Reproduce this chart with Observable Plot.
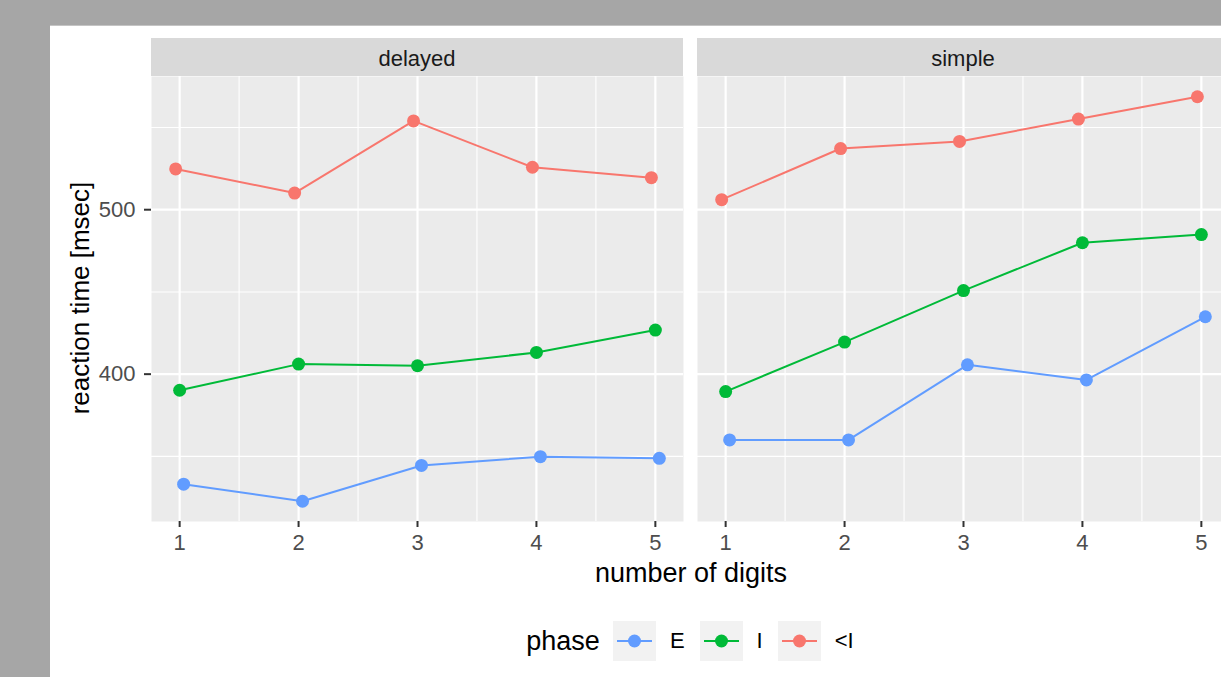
<!DOCTYPE html>
<html>
<head>
<meta charset="utf-8">
<script src="https://cdn.jsdelivr.net/npm/d3@7"></script>
<script src="https://cdn.jsdelivr.net/npm/@observablehq/plot@0.6"></script>
<style>
  html, body { margin: 0; padding: 0; width: 1221px; height: 677px; overflow: hidden; background: #a6a6a6; font-family: "Liberation Sans", Arial, sans-serif; }
  #page { position: absolute; left: 50px; top: 25px; width: 1250px; height: 700px; background: #ffffff; border-top: 1px solid #c4c4c4; box-sizing: border-box; }
  #chart { position: absolute; left: 0; top: 0; }
  .ytitle { position: absolute; left: 30px; top: 272px; transform: translate(-50%, -50%) rotate(-90deg); font-size: 26px; color: #000; white-space: nowrap; }
  .xtitle { position: absolute; left: 641px; top: 547px; transform: translate(-50%, -50%); font-size: 27px; line-height: 27px; color: #000; white-space: nowrap; }
  #legend { position: absolute; left: 0; width: 1280px; top: 595px; height: 40px; display: flex; justify-content: center; align-items: center; }
  #legend .ltitle { font-size: 27px; color: #000; margin-right: 13px; }
  #legend .key { width: 43px; height: 40px; background: #f2f2f2; margin-right: 14px; }
  #legend .lab { font-size: 22px; color: #000; margin-right: 15px; }
  #legend .lab:last-child { margin-right: 0; }
</style>
</head>
<body>
<div id="page">
  <div id="chart"></div>
  <div class="ytitle">reaction time [msec]</div>
  <div class="xtitle">number of digits</div>
  <div id="legend"></div>
</div>
<script>
// ---- data ----
const digits = [1, 2, 3, 4, 5];
const conditions = ["delayed", "simple"];
const phases = ["E", "I", "<I"];
const phaseColors = ["#619CFF", "#00BA38", "#F8766D"];
const dodgeOrder = ["<I", "I", "E"];   // left to right within each digit
const yMajorTicks = [400, 500];
const yMinorTicks = [350, 450, 550];
const xMinorTicks = [1.5, 2.5, 3.5, 4.5];

const delayedE  = [333.1, 322.7, 344.5, 349.8, 348.8];
const delayedI  = [390.2, 406.1, 405.1, 413.2, 426.8];
const delayedLI = [524.8, 510.1, 554.0, 525.8, 519.5];
const simpleE   = [360.0, 360.0, 405.7, 396.5, 434.9];
const simpleI   = [389.4, 419.5, 450.8, 479.9, 484.9];
const simpleLI  = [506.1, 537.2, 541.5, 555.1, 568.7];

const series = {
  delayed: {"E": delayedE, "I": delayedI, "<I": delayedLI},
  simple:  {"E": simpleE,  "I": simpleI,  "<I": simpleLI}
};

// ---- build table ----
const dodgeWidth = 0.1;
const offset = p => (dodgeOrder.indexOf(p) - (dodgeOrder.length - 1) / 2) * dodgeWidth / dodgeOrder.length;
const data = [];
for (const c of conditions) for (const p of phases) digits.forEach((d, i) => {
  data.push({condition: c, phase: p, digit: d, xd: d + offset(p), rt: series[c][p][i]});
});

const expand = (lo, hi, f = 0.05) => { const r = hi - lo; return [lo - r * f, hi + r * f]; };
const xDomain = expand(d3.min(data, d => d.xd), d3.max(data, d => d.xd));
const yDomain = expand(d3.min(data, d => d.rt), d3.max(data, d => d.rt));

const font = "Liberation Sans, Arial, sans-serif";
const chart = Plot.plot({
  width: 1190,
  height: 580,
  marginLeft: 100,
  marginRight: 10,
  marginTop: 50,
  marginBottom: 85,
  style: {fontFamily: font, background: "transparent", overflow: "visible"},
  fx: {domain: conditions, paddingInner: 0.02559, paddingOuter: 0, axis: null, label: null},
  x: {domain: xDomain, label: null},
  y: {domain: yDomain, label: null},
  color: {domain: phases, range: phaseColors},
  marks: [
    Plot.frame({fill: "#ebebeb", stroke: null}),
    Plot.ruleX(xMinorTicks, {stroke: "#ffffff", strokeWidth: 1.1}),
    Plot.ruleY(yMinorTicks, {stroke: "#ffffff", strokeWidth: 1.1}),
    Plot.ruleX(digits, {stroke: "#ffffff", strokeWidth: 2.2}),
    Plot.ruleY(yMajorTicks, {stroke: "#ffffff", strokeWidth: 2.2}),
    Plot.line(data, {fx: "condition", x: "xd", y: "rt", z: "phase", stroke: "phase", strokeWidth: 2}),
    Plot.dot(data, {fx: "condition", x: "xd", y: "rt", fill: "phase", r: 6.5, stroke: null}),
    Plot.axisX(digits, {tickSize: 6, tickPadding: 7, fontSize: 22, fill: "#4d4d4d", stroke: "#333333", strokeWidth: 2, tickFormat: d => String(d), label: null}),
    Plot.axisY(yMajorTicks, {tickSize: 7, tickPadding: 9, fontSize: 22, fill: "#4d4d4d", stroke: "#333333", strokeWidth: 2, tickFormat: d => String(d), label: null})
  ]
});
document.getElementById("chart").appendChild(chart);

// ---- facet strips ----
const fx = chart.scale("fx");
const svg = d3.select(chart);
const strips = svg.append("g");
for (const c of conditions) {
  const x0 = fx.apply(c);
  strips.append("rect").attr("x", x0).attr("y", 12).attr("width", fx.bandwidth).attr("height", 38).attr("fill", "#d9d9d9");
  strips.append("text").attr("x", x0 + fx.bandwidth / 2).attr("y", 32).attr("text-anchor", "middle")
    .attr("dominant-baseline", "central").attr("font-size", 22).attr("fill", "#1a1a1a").attr("font-family", font).text(c);
}

// ---- legend ----
const legend = d3.select("#legend");
legend.append("span").attr("class", "ltitle").text("phase");
phases.forEach((p, i) => {
  const key = legend.append("svg").attr("class", "key").attr("width", 43).attr("height", 40);
  key.append("line").attr("x1", 4).attr("x2", 39).attr("y1", 20).attr("y2", 20).attr("stroke", phaseColors[i]).attr("stroke-width", 2);
  key.append("circle").attr("cx", 21.5).attr("cy", 20).attr("r", 6.5).attr("fill", phaseColors[i]);
  legend.append("span").attr("class", "lab").text(p);
});
</script>
</body>
</html>
